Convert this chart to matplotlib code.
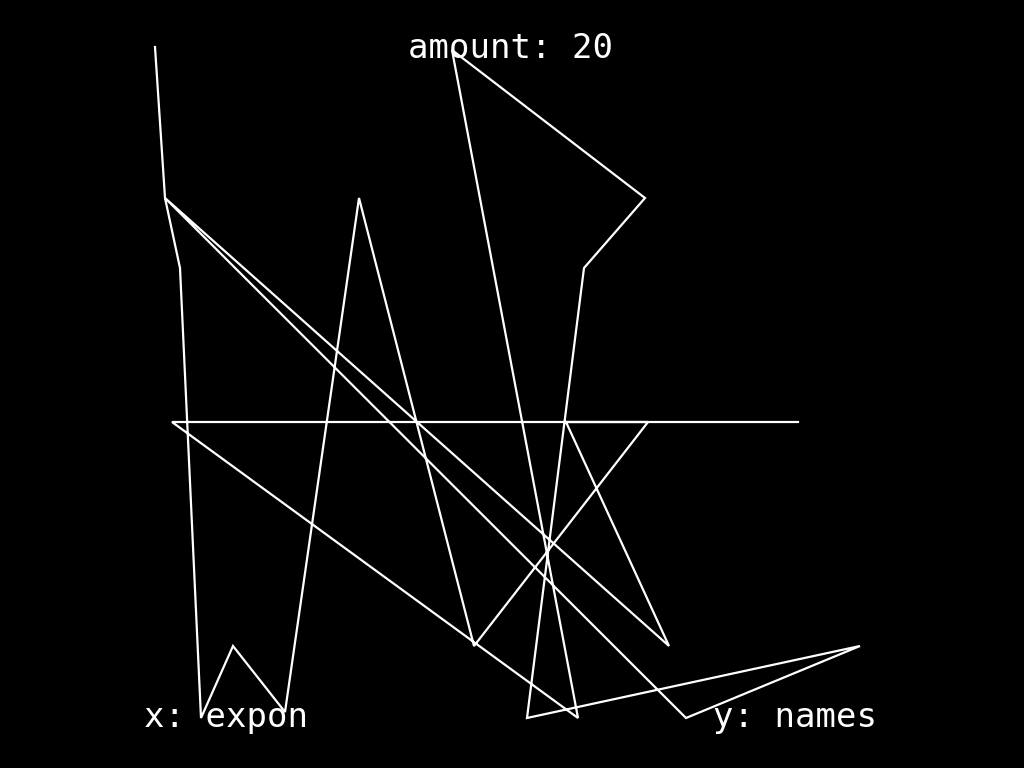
import matplotlib
matplotlib.use("Agg")
import matplotlib.pyplot as plt

# Polyline vertices (in the chart's own coordinate space)
x_vals = [155, 165, 180, 201, 233, 285, 359, 474, 648, 172, 578,
          452, 645, 584, 527, 860, 686, 165, 669, 566, 798]
y_vals = [47, 198, 268, 718, 646, 712, 198, 646, 422, 422, 718,
          50, 198, 268, 718, 646, 718, 198, 646, 422, 422]

title_text = "amount: 20"
x_label = "x: expon"
y_label = "y: names"

fig = plt.figure(figsize=(10.24, 7.68), dpi=100, facecolor="black")
ax = fig.add_axes([0, 0, 1, 1])
ax.set_facecolor("black")
ax.set_xlim(0, 1024)
ax.set_ylim(768, 0)
ax.axis("off")

ax.plot(x_vals, y_vals, color="white", linewidth=1.6, solid_joinstyle="miter")

font = dict(family="DejaVu Sans Mono", color="white", fontsize=24.5)
ax.text(511, 58, title_text, ha="center", va="baseline", **font)
ax.text(226, 727, x_label, ha="center", va="baseline", **font)
ax.text(795, 727, y_label, ha="center", va="baseline", **font)

fig.savefig("out.png", dpi=100, facecolor="black")
